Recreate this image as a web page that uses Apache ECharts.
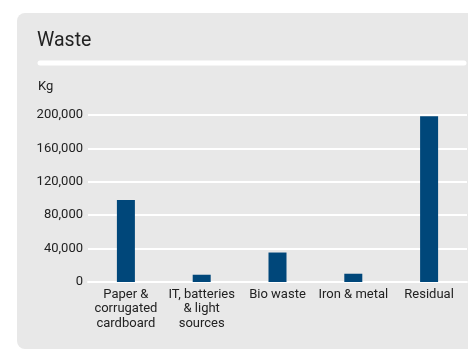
<!DOCTYPE html>
<html>
<head>
<meta charset="utf-8">
<script src="https://cdn.jsdelivr.net/npm/echarts@6/dist/echarts.min.js"></script>
<style>
  html, body { margin: 0; padding: 0; background: #fff; }
  #chart { width: 468px; height: 353px; }
</style>
</head>
<body>
<div id="chart"></div>
<script>
// waste per category, kg
var categories = ['Paper &\ncorrugated\ncardboard', 'IT, batteries\n& light\nsources', 'Bio waste', 'Iron & metal', 'Residual'];
var values = [98300, 8700, 35300, 9900, 198600];
var yTicks = [0, 40000, 80000, 120000, 160000, 200000];

var font = 'Roboto, sans-serif';
var textColor = '#222';

var myChart = echarts.init(document.getElementById('chart'));

var option = {
    animation: false,
    backgroundColor: '#fff',
    graphic: [{
        type: 'rect',
        shape: { x: 17, y: 13, width: 470, height: 336, r: 8 },
        style: { fill: '#e8e8e8' },
        z: -10
    }, {
        type: 'line',
        shape: { x1: 40, y1: 63, x2: 464, y2: 63 },
        style: { stroke: '#fff', lineWidth: 5, lineCap: 'round' },
        z: -5
    }, {
        type: 'text',
        style: { text: 'Waste', x: 37, y: 41, fill: textColor, font: '19.5px ' + font, verticalAlign: 'middle' }
    }, {
        type: 'text',
        style: { text: 'Kg', x: 38, y: 87, fill: textColor, font: '13px ' + font, verticalAlign: 'middle' }
    }],
    grid: {
        left: 88,
        right: 1,
        top: 115,
        bottom: 71
    },
    xAxis: {
        type: 'category',
        data: categories,
        axisLine: { show: true, lineStyle: { color: '#fff', width: 2 } },
        axisTick: { show: false },
        axisLabel: {
            color: textColor,
            fontFamily: font,
            fontSize: 13,
            lineHeight: 14.5,
            margin: 5,
            interval: 0
        }
    },
    yAxis: {
        type: 'value',
        min: yTicks[0],
        max: yTicks[yTicks.length - 1],
        interval: 40000,
        axisLine: { show: false },
        axisTick: { show: false },
        splitLine: { lineStyle: { color: '#fff', width: 2 } },
        axisLabel: {
            color: textColor,
            fontFamily: font,
            fontSize: 13,
            margin: 5,
            formatter: function (v) {
                return v.toLocaleString('en-US');
            }
        }
    },
    series: [{
        type: 'bar',
        data: values,
        barWidth: 18,
        itemStyle: { color: '#00477a' }
    }]
};
myChart.setOption(option);
</script>
</body>
</html>
